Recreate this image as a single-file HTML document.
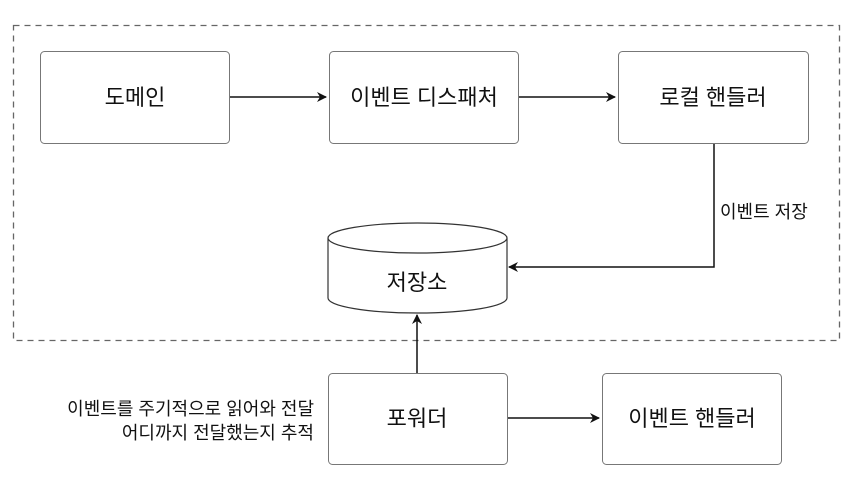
<!DOCTYPE html>
<html><head><meta charset="utf-8"><style>
body{margin:0;background:#fff;}
text{font-family:"Liberation Sans","Noto Sans CJK KR",sans-serif;fill:#111;}
</style></head><body>
<svg width="850" height="474" xmlns="http://www.w3.org/2000/svg">
<defs><marker id="a" markerWidth="10" markerHeight="10" refX="9" refY="5" orient="auto" markerUnits="userSpaceOnUse"><path d="M0,0 L10,5 L0,10 L3,5 Z" fill="#111"/></marker></defs>
<rect x="13.5" y="25.5" width="826" height="315" fill="none" stroke="#666" stroke-width="1.3" stroke-dasharray="6,5"/>
<g fill="#fff" stroke="#777" stroke-width="1">
<rect x="40.5" y="51.5" width="189" height="92" rx="4"/>
<rect x="329.5" y="51.5" width="189" height="92" rx="4"/>
<rect x="618.5" y="51.5" width="190" height="92" rx="4"/>
<rect x="328.5" y="373.5" width="179" height="91" rx="4"/>
<rect x="602.5" y="373.5" width="179" height="91" rx="4"/>
</g>
<g fill="#fff" stroke="#333" stroke-width="1.2">
<path d="M328,238 L328,298 A89.5,15 0 0 0 507,298 L507,238"/>
<ellipse cx="417.5" cy="238" rx="89.5" ry="15"/>
</g>
<g stroke="#111" stroke-width="1.5" fill="none">
<line x1="230" y1="97" x2="326" y2="97" marker-end="url(#a)"/>
<line x1="519" y1="97" x2="615" y2="97" marker-end="url(#a)"/>
<polyline points="714,144 714,267 509,267" marker-end="url(#a)"/>
<line x1="417" y1="373" x2="417" y2="315" marker-end="url(#a)"/>
<line x1="508" y1="418" x2="599" y2="418" marker-end="url(#a)"/>
</g>
<g font-size="22" text-anchor="middle">
<text x="135" y="105">도메인</text>
<text x="424" y="105">이벤트 디스패처</text>
<text x="713" y="105">로컬 핸들러</text>
<text x="417" y="290">저장소</text>
<text x="417" y="426">포워더</text>
<text x="692" y="426">이벤트 핸들러</text>
</g>
<text x="720" y="218" font-size="18">이벤트 저장</text>
<g font-size="18" text-anchor="end">
<text x="314" y="415">이벤트를 주기적으로 읽어와 전달</text>
<text x="314" y="439">어디까지 전달했는지 추적</text>
</g>
</svg>
</body></html>
